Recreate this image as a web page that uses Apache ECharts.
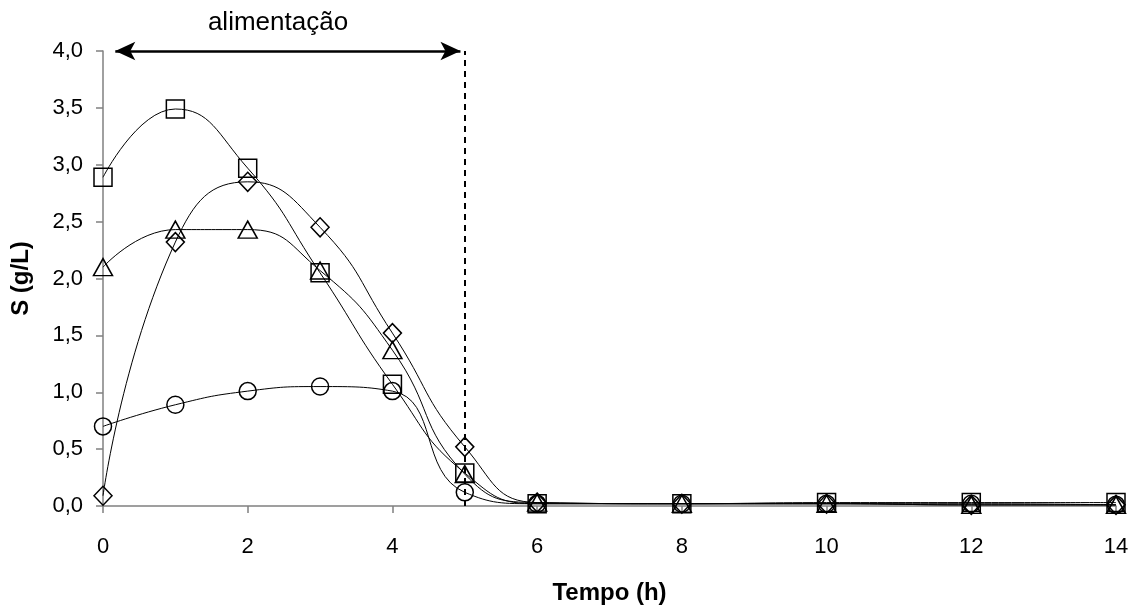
<!DOCTYPE html>
<html>
<head>
<meta charset="utf-8">
<script src="https://cdn.jsdelivr.net/npm/echarts@6/dist/echarts.min.js"></script>
<style>
html,body{margin:0;padding:0;background:#fff;}
#chart{width:1138px;height:610px;}
</style>
</head>
<body>
<div id="chart"></div>
<script>
const tempo = [0, 1, 2, 3, 4, 5, 6, 8, 10, 12, 14];
const sDiamond  = [0.09, 2.32, 2.85, 2.45, 1.52, 0.52, 0.03, 0.02, 0.02, 0.01, 0.01];
const sSquare   = [2.89, 3.49, 2.97, 2.05, 1.07, 0.29, 0.02, 0.02, 0.03, 0.03, 0.03];
const sTriangle = [2.10, 2.43, 2.43, 2.07, 1.37, 0.28, 0.03, 0.02, 0.02, 0.01, 0.01];
const sCircle   = [0.70, 0.89, 1.01, 1.05, 1.01, 0.12, 0.02, 0.02, 0.02, 0.02, 0.01];
const feedStart = 0.17, feedEnd = 4.94, feedLineX = 5;
const yTicks = ['0,0','0,5','1,0','1,5','2,0','2,5','3,0','3,5','4,0'];
const xTitle = 'Tempo (h)', yTitle = 'S (g/L)', annotation = 'alimentação';

const font = 'Liberation Sans, Arial, sans-serif';
function pairs(ys){ return tempo.map((x,i)=>[x, ys[i]]); }
function mk(name, data, symbol, size){
  return {
    name, type:'line', data:pairs(data), smooth:0.5,
    symbol, symbolSize:size, showSymbol:true,
    lineStyle:{color:'#000', width:1},
    itemStyle:{color:'rgba(0,0,0,0)', borderColor:'#000', borderWidth:1.5},
    emphasis:{disabled:true}, animation:false
  };
}
const chart = echarts.init(document.getElementById('chart'), null, {renderer:'canvas'});
const series = [
  mk('circle', sCircle, 'circle', 17),
  mk('triangle', sTriangle, 'triangle', [19,17]),
  mk('diamond', sDiamond, 'diamond', [18,19]),
  mk('square', sSquare, 'rect', 18)
];
series[0].markLine = {
  silent:true, animation:false,
  label:{show:false},
  data:[
    [{coord:[feedLineX,0], symbol:'none'},{coord:[feedLineX,4], symbol:'none', lineStyle:{type:[6,5], width:2, color:'#000'}}],
    [{coord:[feedStart,4], symbol:'arrow'},{coord:[feedEnd,4], symbol:'arrow', lineStyle:{type:'solid', width:2.5, color:'#000'}}]
  ],
  symbolSize:[14,20],
  lineStyle:{color:'#000', width:2, type:[6,5]}
};
chart.setOption({
  backgroundColor:'#fff',
  animation:false,
  grid:{left:103, right:22, top:51, bottom:102, containLabel:false},
  graphic:[{type:'text', x:278, y:23, style:{text:annotation, textAlign:'center', textVerticalAlign:'middle', font:'26px '+font, fill:'#000'}}],
  xAxis:{
    type:'value', min:0, max:14, interval:2,
    name:xTitle, nameLocation:'middle', nameGap:75,
    nameTextStyle:{fontFamily:font, fontWeight:'bold', fontSize:24, color:'#000'},
    axisLine:{onZero:false, lineStyle:{color:'#808080', width:1.5}},
    axisTick:{show:true, length:7, inside:false, lineStyle:{color:'#808080', width:1.5}},
    axisLabel:{fontFamily:font, fontSize:22, color:'#000', margin:30},
    splitLine:{show:false}
  },
  yAxis:{
    type:'value', min:0, max:4, interval:0.5,
    name:yTitle, nameLocation:'middle', nameGap:70, nameRotate:90,
    nameTextStyle:{fontFamily:font, fontWeight:'bold', fontSize:24, color:'#000'},
    axisLine:{show:true, lineStyle:{color:'#808080', width:1.5}},
    axisTick:{show:true, length:7, lineStyle:{color:'#808080', width:1.5}},
    axisLabel:{fontFamily:font, fontSize:22, color:'#000', margin:20,
      formatter:(v)=>yTicks[Math.round(v/0.5)]},
    splitLine:{show:false}
  },
  series
});
</script>
</body>
</html>
